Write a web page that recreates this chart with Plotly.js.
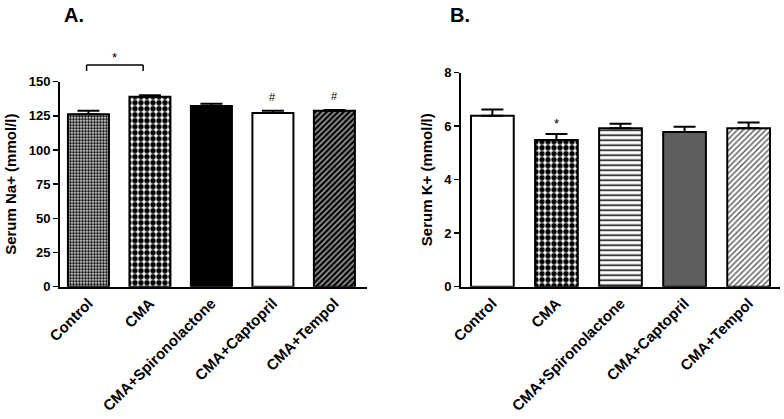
<!DOCTYPE html>
<html>
<head>
<meta charset="utf-8">
<script src="https://cdn.plot.ly/plotly-3.0.1.min.js"></script>
<style>
  body { margin: 0; background: #fff; }
  #chart { width: 784px; height: 419px; }
</style>
</head>
<body>
<div id="chart"></div>
<script>
// groups, same in both panels
var categories = ['Control', 'CMA', 'CMA+Spironolactone', 'CMA+Captopril', 'CMA+Tempol'];

// panel A: serum Na+ (mmol/l), mean and upper SEM
var sodium = [126.1, 139.0, 132.2, 127.1, 128.8];
var sodiumErr = [2.7, 1.0, 1.7, 1.7, 0.5];

// panel B: serum K+ (mmol/l), mean and upper SEM
var potassium = [6.39, 5.48, 5.92, 5.78, 5.92];
var potassiumErr = [0.23, 0.23, 0.17, 0.2, 0.22];

var font = 'Arial, "Liberation Sans", sans-serif';

// fill of each bar: [pattern shape, fg, bg, size, solidity]
var fillsA = [
    ['.', '#000', '#fff', 3, 0.6],
    ['.', '#000', '#fff', 6, 0.62],
    ['', '#000', '#000', 8, 0.3],
    ['', '#000', '#fff', 8, 0.3],
    ['/', '#a0a0a0', '#000', 4, 0.4]
];
var fillsB = [
    ['', '#000', '#fff', 8, 0.3],
    ['.', '#000', '#fff', 6, 0.62],
    ['-', '#000', '#fff', 5, 0.3],
    ['', '#000', '#5e5e5e', 8, 0.3],
    ['/', '#555', '#fff', 4, 0.35]
];

// one trace per bar so each one keeps its own fill
function barTraces(values, errs, fills, xa, ya) {
    return values.map(function (v, i) {
        var f = fills[i];
        var marker = { color: f[2], line: { color: '#000', width: 2 } };
        if (f[0]) {
            marker.pattern = {
                shape: f[0], fgcolor: f[1], bgcolor: f[2], size: f[3], solidity: f[4],
                fillmode: 'overlay', fgopacity: 1
            };
        }
        return {
            type: 'bar',
            x: [i],
            y: [v],
            name: categories[i],
            width: 0.667,
            xaxis: xa,
            yaxis: ya,
            marker: marker,
            error_y: {
                type: 'data', symmetric: false,
                array: [errs[i]], arrayminus: [0],
                color: '#000', thickness: 2, width: 11
            }
        };
    });
}

var idx = categories.map(function (c, i) { return i; });

var xBase = {
    tickmode: 'array',
    tickvals: idx,
    ticktext: categories,
    tickangle: -45,
    tickfont: { family: font, size: 15, color: '#000', weight: 'bold' },
    showline: true, linecolor: '#000', linewidth: 2,
    ticks: '', showgrid: false, zeroline: false
};

var yBase = {
    showline: true, linecolor: '#000', linewidth: 2,
    ticks: 'outside', ticklen: 5, tickwidth: 1.5, tickcolor: '#000',
    tickfont: { family: font, size: 13, color: '#000', weight: 'bold' },
    showgrid: false, zeroline: false
};

var titleFont = { family: font, size: 15, color: '#000', weight: 'bold' };

var layout = {
    width: 784,
    height: 419,
    margin: { l: 0, r: 0, t: 0, b: 0 },
    paper_bgcolor: '#fff',
    plot_bgcolor: '#fff',
    showlegend: false,
    barmode: 'overlay',
    xaxis: Object.assign({}, xBase, { domain: [0.0765, 0.4681], range: [-0.463, 4.53], anchor: 'y' }),
    yaxis: Object.assign({}, yBase, {
        domain: [0.3158, 0.805], range: [0, 150], tickvals: [0, 25, 50, 75, 100, 125, 150],
        anchor: 'x',
        title: { text: 'Serum Na+ (mmol/l)', font: titleFont, standoff: 8 }
    }),
    xaxis2: Object.assign({}, xBase, { domain: [0.588, 0.9949], range: [-0.49, 4.49], anchor: 'y2' }),
    yaxis2: Object.assign({}, yBase, {
        domain: [0.3158, 0.8265], range: [0, 8], tickvals: [0, 2, 4, 6, 8],
        anchor: 'x2',
        title: { text: 'Serum K+ (mmol/l)', font: titleFont, standoff: 8 }
    }),
    shapes: [
        // significance bracket Control vs CMA
        { type: 'line', xref: 'x', yref: 'paper', x0: -0.03, x1: 0.89, y0: 0.8449, y1: 0.8449, line: { color: '#000', width: 1.5 } },
        { type: 'line', xref: 'x', yref: 'paper', x0: -0.03, x1: -0.03, y0: 0.8449, y1: 0.8305, line: { color: '#000', width: 1.5 } },
        { type: 'line', xref: 'x', yref: 'paper', x0: 0.89, x1: 0.89, y0: 0.8449, y1: 0.8305, line: { color: '#000', width: 1.5 } }
    ],
    annotations: [
        { text: '<b>A.</b>', xref: 'paper', yref: 'paper', x: 0.079, y: 0.964, xanchor: 'left', yanchor: 'middle', showarrow: false, font: { family: font, size: 20, color: '#000' } },
        { text: '<b>B.</b>', xref: 'paper', yref: 'paper', x: 0.572, y: 0.964, xanchor: 'left', yanchor: 'middle', showarrow: false, font: { family: font, size: 20, color: '#000' } },
        { text: '*', xref: 'x', yref: 'paper', x: 0.43, y: 0.862, yanchor: 'middle', showarrow: false, font: { family: font, size: 13, color: '#000' } },
        { text: '#', xref: 'x', yref: 'y', x: 3, y: 138.8, yanchor: 'middle', showarrow: false, font: { family: font, size: 11, color: '#000' } },
        { text: '#', xref: 'x', yref: 'y', x: 4, y: 139.5, yanchor: 'middle', showarrow: false, font: { family: font, size: 11, color: '#000' } },
        { text: '*', xref: 'x2', yref: 'y2', x: 1, y: 6.1, yanchor: 'middle', showarrow: false, font: { family: font, size: 13, color: '#000' } }
    ]
};

var data = barTraces(sodium, sodiumErr, fillsA, 'x', 'y')
    .concat(barTraces(potassium, potassiumErr, fillsB, 'x2', 'y2'));

Plotly.newPlot('chart', data, layout, { displayModeBar: false, staticPlot: true });
</script>
</body>
</html>
